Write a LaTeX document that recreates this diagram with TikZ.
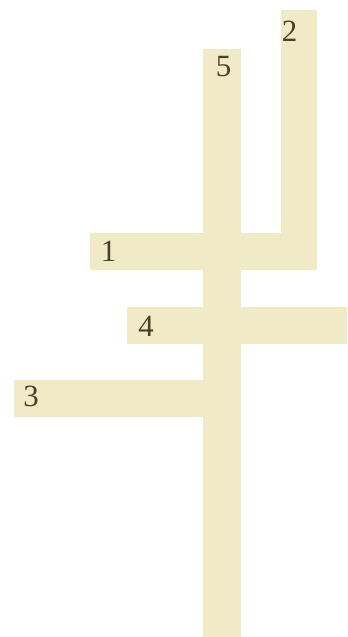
\documentclass[tikz,border=0pt]{standalone}
\usepackage{fontspec}
\setmainfont{Liberation Serif}
\usepackage{tikz}
\definecolor{barfill}{HTML}{F0EBC6}
\definecolor{labelink}{HTML}{4D3E26}

\begin{document}
\begin{tikzpicture}[
  x=1bp, y=-1bp,
  bar/.style={fill=barfill, draw=none},
  num/.style={inner sep=0pt, text=labelink, font=\fontsize{31}{31}\selectfont},
]
  \useasboundingbox (0,0) rectangle (347,637);

  % Bars
  \fill[bar] (203,49) rectangle (241,637);  % 5
  \fill[bar] (281,10) rectangle (317,270);  % 2
  \fill[bar] (90,233) rectangle (317,270);  % 1
  \fill[bar] (127,307) rectangle (347,344); % 4
  \fill[bar] (14,380) rectangle (241,417);  % 3

  % Labels
  \node[num] (five)  at (223.5,66.5) {5};
  \node[num] (two)   at (289.5,31)   {2};
  \node[num] (one)   at (108.5,251)  {1};
  \node[num] (four)  at (146,326)    {4};
  \node[num] (three) at (31,396.5)   {3};

\end{tikzpicture}
\end{document}
